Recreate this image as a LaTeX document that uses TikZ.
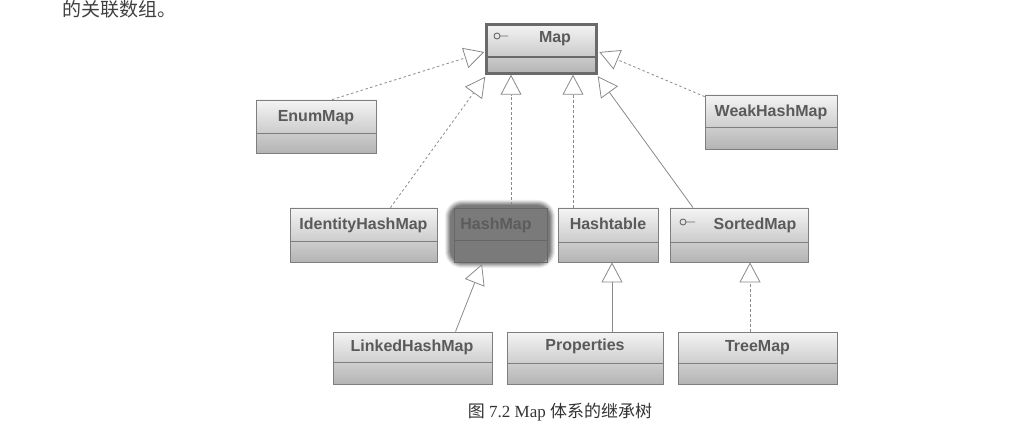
\documentclass[tikz,border=0pt]{standalone}
\usepackage{fontspec}
\setmainfont{Liberation Serif}
\newfontfamily\clsfont{Liberation Sans}
\newfontfamily\cjkfont{Noto Sans CJK SC}
\usetikzlibrary{arrows.meta,fit,calc}
\definecolor{boxtop}{HTML}{F4F4F4}
\definecolor{boxbot}{HTML}{B4B4B4}
\definecolor{boxline}{HTML}{7E7E7E}
\definecolor{mapline}{HTML}{6A6A6A}
\definecolor{txt}{HTML}{5A5A5A}
\definecolor{linec}{HTML}{8A8A8A}
\definecolor{hashfill}{HTML}{7A7A7A}
\begin{document}
\begin{tikzpicture}[x=1pt,y=-1pt,
  clsbox/.style={draw=boxline, line width=0.8pt, top color=boxtop, bottom color=boxbot, inner sep=0pt},
  divl/.style={draw=boxline, line width=0.8pt},
  cls/.style={font=\clsfont\bfseries\fontsize{16}{18}\selectfont, text=txt, inner sep=0pt, anchor=base},
  gen/.style={draw=linec, line width=0.8pt, -{Triangle[open, length=20pt, width=21pt, fill=white, line width=0.8pt]}},
  real/.style={gen, dash pattern=on 2.5pt off 2.5pt},
  icon/.style={draw=mapline, line width=0.9pt}
]
\fill[white] (0,0) rectangle (1036,430);
\useasboundingbox (0,0) rectangle (1036,430);

% partial text at top
\node[font=\cjkfont\fontsize{19}{19}\selectfont, text=black!75, anchor=base west, inner sep=0pt] (toptext) at (62,17) {的关联数组。};

% Map
\node[clsbox, draw=mapline, line width=2.5pt, fit={(486.5,24.5) (596.5,73.5)}] (map) {};
\draw[divl, draw=mapline, line width=2pt] (map.west |- 0,57) -- (map.east |- 0,57);
\node[cls] (mapT) at (555,43) {Map};
\draw[icon] (497,36) circle[radius=3pt] (500,36) -- (508,36);

% EnumMap
\node[clsbox, fit={(256,100) (376,153)}] (enum) {};
\draw[divl] (enum.west |- 0,133) -- (enum.east |- 0,133);
\node[cls] (enumT) at (316,122) {EnumMap};

% WeakHashMap
\node[clsbox, fit={(705,95) (837,149)}] (weak) {};
\draw[divl] (weak.west |- 0,127) -- (weak.east |- 0,127);
\node[cls] (weakT) at (771,117) {WeakHashMap};

% IdentityHashMap
\node[clsbox, fit={(290,208) (437,262)}] (ident) {};
\draw[divl] (ident.west |- 0,241) -- (ident.east |- 0,241);
\node[cls] (identT) at (363.5,230) {IdentityHashMap};

% HashMap (highlighted)
\foreach \i/\o in {5/0.12,4/0.18,3/0.25,2/0.35,1/0.5}{
  \fill[hashfill, opacity=\o, rounded corners={12pt+\i pt}] (450-\i,205-\i) rectangle (550+\i,263+\i);
}
\node[fit={(450,205) (550,263)}, inner sep=0pt, fill=hashfill, rounded corners=12pt] (hash) {};
\draw[draw=black!60, line width=0.6pt] (454,208) rectangle (547,262);
\draw[draw=black!60, line width=0.6pt] (454,240) -- (547,240);
\node[cls, text=black!64] (hashT) at (496,230) {HashMap};

% Hashtable
\node[clsbox, fit={(558,208) (658,262)}] (htab) {};
\draw[divl] (htab.west |- 0,242) -- (htab.east |- 0,242);
\node[cls] (htabT) at (608,230) {Hashtable};

% SortedMap
\node[clsbox, fit={(670,208) (808,262)}] (sorted) {};
\draw[divl] (sorted.west |- 0,242) -- (sorted.east |- 0,242);
\node[cls] (sortedT) at (755,230) {SortedMap};
\draw[icon] (683,222) circle[radius=3pt] (686,222) -- (695,222);

% LinkedHashMap
\node[clsbox, fit={(333,332) (492,384)}] (linked) {};
\draw[divl] (linked.west |- 0,362) -- (linked.east |- 0,362);
\node[cls] (linkedT) at (412,351) {LinkedHashMap};

% Properties
\node[clsbox, fit={(507,332) (663,384)}] (props) {};
\draw[divl] (props.west |- 0,363) -- (props.east |- 0,363);
\node[cls] (propsT) at (585,350) {Properties};

% TreeMap
\node[clsbox, fit={(678,332) (837,384)}] (tree) {};
\draw[divl] (tree.west |- 0,363) -- (tree.east |- 0,363);
\node[cls] (treeT) at (757.5,351) {TreeMap};

% connectors
\draw[real] ($(enum.north)+(16,0)$) -- ($(map.west)+(-1,3)$);
\draw[real] ($(ident.north)+(27,0)$) -- ($(map.south west)+(0,2)$);
\draw[real] ($(hash.north)+(11,0)$) coordinate (h1) -- (h1 |- map.south);
\draw[real] ($(htab.north)+(-35,0)$) coordinate (h2) -- (h2 |- map.south);
\draw[gen] ($(sorted.north)+(-46,0)$) -- ($(map.south east)+(0,1.5)$);
\draw[real] ($(weak.north west)+(0,2)$) -- ($(map.east)+(1.5,3)$);
\draw[gen] ($(linked.north)+(43,0)$) -- ($(hash.south)+(-18,1)$);
\draw[gen] ($(props.north)+(27,0)$) coordinate (p1) -- (p1 |- htab.south);
\draw[real] ($(tree.north)+(-7.5,0)$) coordinate (t1) -- (t1 |- sorted.south);

% caption
\node[font=\fontsize{17}{20}\selectfont, text=black!80, anchor=base, inner sep=0pt] (caption) at (560,417)
  {{\cjkfont 图} 7.2 Map {\cjkfont 体系的继承树}};
\end{tikzpicture}
\end{document}
